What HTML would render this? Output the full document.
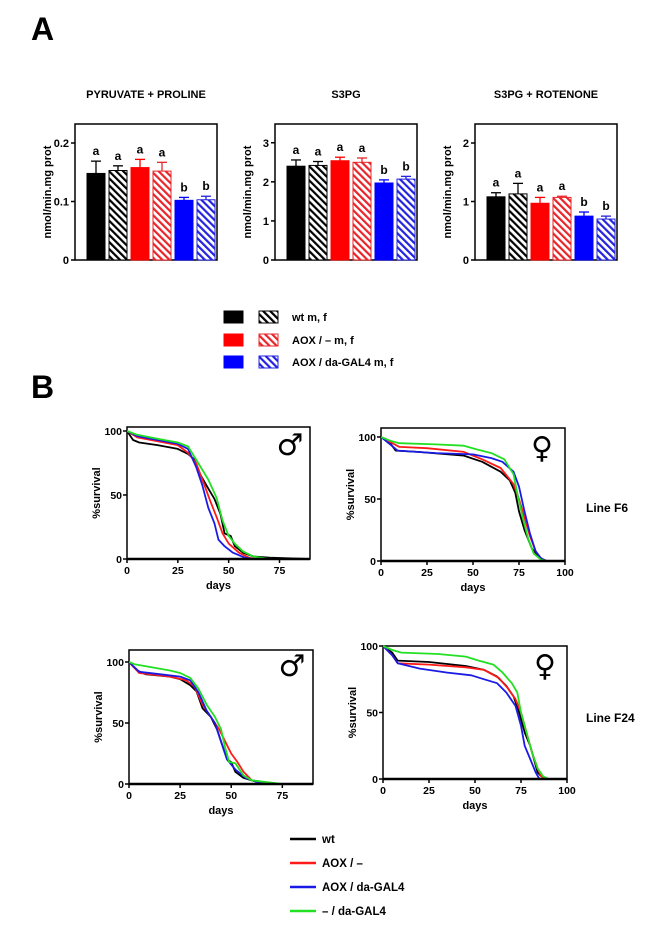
<!DOCTYPE html>
<html><head><meta charset="utf-8"><style>
html,body{margin:0;padding:0;background:#fff;}
svg{display:block;font-family:"Liberation Sans",Arial,sans-serif;}
text{font-weight:bold;fill:#000;}
</style></head><body>
<svg id="fig" width="672" height="925" viewBox="0 0 672 925" xmlns="http://www.w3.org/2000/svg">
<defs>
<pattern id="hatch-black" patternUnits="userSpaceOnUse" width="5" height="5" patternTransform="rotate(-45)"><rect width="5" height="5" fill="#fff"/><rect width="2.2" height="5" fill="#000"/></pattern>
<pattern id="hatch-red" patternUnits="userSpaceOnUse" width="5" height="5" patternTransform="rotate(-45)"><rect width="5" height="5" fill="#fff"/><rect width="2.2" height="5" fill="#e8252a"/></pattern>
<pattern id="hatch-blue" patternUnits="userSpaceOnUse" width="5" height="5" patternTransform="rotate(-45)"><rect width="5" height="5" fill="#fff"/><rect width="2.2" height="5" fill="#2323e0"/></pattern>
</defs>
<text x="31" y="40" font-size="32">A</text>
<text x="31" y="398" font-size="32">B</text>
<g id="bars"></g>
<g id="legendA"></g>
<g id="surv"></g>
<text x="586" y="512" font-size="12">Line F6</text>
<text x="586" y="722" font-size="12">Line F24</text>
<g id="legendB"></g>
</svg>
<script>
// ---- Panel A data ----
const barTitles = ["PYRUVATE + PROLINE", "S3PG", "S3PG + ROTENONE"];
const barGroups = ["wt m", "wt f", "AOX/- m", "AOX/- f", "AOX/da-GAL4 m", "AOX/da-GAL4 f"];
const pyrValues = [0.148, 0.153, 0.158, 0.152, 0.102, 0.103];
const pyrErrors = [0.021, 0.008, 0.014, 0.015, 0.005, 0.006];
const s3pgValues = [2.40, 2.42, 2.54, 2.50, 1.97, 2.07];
const s3pgErrors = [0.16, 0.10, 0.09, 0.11, 0.08, 0.07];
const rotValues = [1.08, 1.13, 0.97, 1.07, 0.75, 0.70];
const rotErrors = [0.07, 0.18, 0.10, 0.02, 0.07, 0.05];
const sigLetters = ["a", "a", "a", "a", "b", "b"];
const pyrTicks = ["0", "0.1", "0.2"];
const s3pgTicks = ["0", "1", "2", "3"];
const rotTicks = ["0", "1", "2"];

// ---- Panel B data (day, %survival) ----
const seriesNames = ["wt", "AOX / \u2013", "AOX / da-GAL4", "\u2013 / da-GAL4"];
const f6MaleWt = [[0,100],[3,93],[6,91],[15,89],[25,86],[30,82],[33,78],[36,66],[40,55],[43,47],[46,35],[48,20],[51,18],[53,10],[57,5],[62,2],[70,1],[90,0]];
const f6MaleAox = [[0,100],[5,95],[15,92],[25,89],[30,83],[34,75],[38,58],[41,45],[44,33],[47,20],[50,12],[55,5],[60,1],[63,0]];
const f6MaleAoxDa = [[0,100],[5,96],[15,93],[25,90],[30,86],[34,72],[37,58],[40,40],[43,28],[45,15],[48,10],[52,5],[58,1],[62,0]];
const f6MaleDa = [[0,100],[5,97],[15,94],[25,91],[30,88],[35,75],[40,62],[44,48],[47,30],[50,18],[53,12],[57,6],[62,2],[70,0]];
const f6FemWt = [[0,100],[5,95],[8,89],[20,88],[45,85],[55,80],[65,72],[70,65],[73,55],[75,40],[78,25],[82,10],[85,5],[88,1],[90,0]];
const f6FemAox = [[0,100],[5,96],[10,92],[25,91],[45,88],[55,82],[65,75],[72,62],[75,50],[78,35],[81,20],[84,8],[87,2],[90,0]];
const f6FemAoxDa = [[0,100],[5,94],[9,89],[30,87],[50,86],[60,83],[66,80],[72,72],[75,60],[78,40],[81,22],[84,8],[87,2],[90,0]];
const f6FemDa = [[0,100],[5,97],[10,95],[30,94],[45,93],[52,90],[60,87],[67,82],[72,70],[74,55],[77,35],[80,18],[83,6],[87,1],[90,0]];
const f24MaleWt = [[0,100],[4,93],[8,90],[20,88],[25,86],[30,81],[33,76],[36,62],[40,55],[43,45],[46,30],[48,20],[50,18],[52,10],[56,5],[62,2],[70,0]];
const f24MaleAox = [[0,100],[5,91],[10,90],[20,88],[28,85],[32,80],[36,65],[40,55],[44,45],[47,35],[50,25],[53,18],[56,10],[60,3],[68,1],[72,0]];
const f24MaleAoxDa = [[0,100],[5,92],[15,90],[25,88],[30,85],[34,75],[38,60],[42,50],[45,35],[48,20],[52,12],[57,5],[62,2],[70,0]];
const f24MaleDa = [[0,100],[3,98],[10,96],[20,93],[25,91],[30,87],[34,78],[38,65],[42,55],[45,45],[47,30],[49,18],[52,17],[56,7],[60,3],[70,1],[75,0]];
const f24FemWt = [[0,100],[5,95],[8,89],[25,88],[45,85],[55,82],[62,77],[67,70],[71,62],[74,50],[77,35],[80,25],[82,15],[84,5],[86,2],[89,0]];
const f24FemAox = [[0,100],[5,93],[8,87],[25,86],[45,84],[55,82],[63,76],[68,68],[72,60],[75,50],[78,35],[81,20],[84,8],[86,2],[89,0]];
const f24FemAoxDa = [[0,100],[5,93],[8,87],[20,83],[35,80],[48,78],[55,75],[62,72],[67,65],[72,55],[75,40],[77,25],[80,15],[83,5],[85,0]];
const f24FemDa = [[0,100],[5,97],[10,95],[30,94],[45,92],[52,89],[60,86],[65,80],[70,72],[73,65],[75,50],[78,35],[81,20],[84,8],[87,2],[90,0]];
const survTicksX90 = [0, 25, 50, 75];
const survTicksX100 = [0, 25, 50, 75, 100];
const survTicksY = [0, 50, 100];

const NS = "http://www.w3.org/2000/svg";
function mk(tag, attrs, parent) {
  const e = document.createElementNS(NS, tag);
  for (const k in attrs) e.setAttribute(k, attrs[k]);
  parent.appendChild(e);
  return e;
}
const solidCols = ["#000", "#000", "#ff0000", "#e8252a", "#0000ff", "#2323e0"];
const fills = ["#000", "url(#hatch-black)", "#ff0000", "url(#hatch-red)", "#0000ff", "url(#hatch-blue)"];

// ---- Bar charts ----
const barCharts = [
  {L: 75, max: 0.2325, vals: pyrValues, errs: pyrErrors, ticks: pyrTicks, slug: "pyruvate-proline"},
  {L: 275, max: 3.48, vals: s3pgValues, errs: s3pgErrors, ticks: s3pgTicks, slug: "s3pg"},
  {L: 475, max: 2.325, vals: rotValues, errs: rotErrors, ticks: rotTicks, slug: "s3pg-rotenone"}
];
const barsG = document.getElementById("bars");
barCharts.forEach((c, ci) => {
  const T = 124, B = 260, W = 142;
  const y = v => B - (v / c.max) * (B - T);
  const g = mk("g", {}, barsG);
  
  
  const title = mk("text", {x: c.L + W / 2, y: 98, "font-size": 11, "text-anchor": "middle"}, g);
  title.textContent = barTitles[ci];
  
  
  const box = mk("rect", {x: c.L, y: T, width: W, height: B - T, fill: "none", stroke: "#000", "stroke-width": 1.5}, g);
  
  
  c.ticks.forEach(t => {
    const ty = y(parseFloat(t));
    mk("line", {x1: c.L - 4, x2: c.L, y1: ty, y2: ty, stroke: "#000", "stroke-width": 1.5}, g);
    const tl = mk("text", {x: c.L - 6, y: ty + 4, "font-size": 11, "text-anchor": "end"}, g);
    tl.textContent = t;
    
    
  });
  const yl = mk("text", {x: 0, y: 0, "font-size": 11, "text-anchor": "middle", transform: `translate(${c.L - 24},${(T + B) / 2}) rotate(-90)`}, g);
  yl.textContent = "nmol/min.mg prot";
  
  
  c.vals.forEach((v, i) => {
    const cx = c.L + 21 + i * 22;
    const top = y(v), etop = y(v + c.errs[i]);
    const el = mk("line", {x1: cx, x2: cx, y1: top, y2: etop, stroke: solidCols[i], "stroke-width": 1.3}, g);
    
    
    mk("line", {x1: cx - 5, x2: cx + 5, y1: etop, y2: etop, stroke: solidCols[i], "stroke-width": 1.3}, g);
    const r = mk("rect", {x: cx - 9, y: top, width: 18, height: B - top, fill: fills[i], stroke: solidCols[i], "stroke-width": 1}, g);
    
    
    const lt = mk("text", {x: cx, y: etop - 6, "font-size": 12, "text-anchor": "middle"}, g);
    lt.textContent = sigLetters[i];
    
    
  });
});

// Legend A
const legA = document.getElementById("legendA");
const legALabels = ["wt  m, f", "AOX / \u2013  m, f", "AOX / da-GAL4  m, f"];
const legAY = [317, 340, 362];
legALabels.forEach((lab, i) => {
  const yy = legAY[i];
  const s = mk("rect", {x: 224, y: yy - 6, width: 19, height: 12, fill: fills[i * 2], stroke: solidCols[i * 2], "stroke-width": 1}, legA);
  
  
  const h = mk("rect", {x: 259, y: yy - 6, width: 19, height: 12, fill: fills[i * 2 + 1], stroke: solidCols[i * 2 + 1], "stroke-width": 1}, legA);
  
  
  const t = mk("text", {x: 292, y: yy + 4, "font-size": 11}, legA);
  t.textContent = lab;
  
  
});

// ---- Survival plots ----
const lineCols = ["#000000", "#ff1a1a", "#1a1ae6", "#22e022"];
const survPlots = [
  {L: 127, R: 310, T: 427, B: 559, y100: 431, xmax: 90, ticks: survTicksX90, sym: "\u2642", sx: 290, sy: 455, series: [f6MaleWt, f6MaleAox, f6MaleAoxDa, f6MaleDa], slug: "f6-male"},
  {L: 381, R: 565, T: 428, B: 561, y100: 437, xmax: 100, ticks: survTicksX100, sym: "\u2640", sx: 542, sy: 458, series: [f6FemWt, f6FemAox, f6FemAoxDa, f6FemDa], slug: "f6-female"},
  {L: 129, R: 313, T: 650, B: 784, y100: 662, xmax: 90, ticks: survTicksX90, sym: "\u2642", sx: 292, sy: 676, series: [f24MaleWt, f24MaleAox, f24MaleAoxDa, f24MaleDa], slug: "f24-male"},
  {L: 383, R: 567, T: 646, B: 779, y100: 646, xmax: 100, ticks: survTicksX100, sym: "\u2640", sx: 545, sy: 676, series: [f24FemWt, f24FemAox, f24FemAoxDa, f24FemDa], slug: "f24-female"}
];
const survG = document.getElementById("surv");
survPlots.forEach(p => {
  const xs = d => p.L + d / p.xmax * (p.R - p.L);
  const ys = v => p.B - v / 100 * (p.B - p.y100);
  const g = mk("g", {}, survG);
  
  
  const fr = mk("rect", {x: p.L, y: p.T, width: p.R - p.L, height: p.B - p.T, fill: "none", stroke: "#000", "stroke-width": 1.5}, g);
  
  
  p.series.forEach((s, si) => {
    const pts = s.map(d => xs(d[0]).toFixed(1) + "," + ys(d[1]).toFixed(1)).join(" ");
    const pl = mk("polyline", {points: pts, fill: "none", stroke: lineCols[si], "stroke-width": 1.8, "stroke-linejoin": "round"}, g);
    
    
  });
  mk("line", {x1: p.L, x2: p.R, y1: p.B, y2: p.B, stroke: "#000", "stroke-width": 2.5}, g);
  p.ticks.forEach(t => {
    const tx = xs(t);
    mk("line", {x1: tx, x2: tx, y1: p.B, y2: p.B + 4, stroke: "#000", "stroke-width": 1.5}, g);
    const tl = mk("text", {x: tx, y: p.B + 15, "font-size": 10.5, "text-anchor": "middle"}, g);
    tl.textContent = t;
    
    
  });
  survTicksY.forEach(t => {
    const ty = ys(t);
    mk("line", {x1: p.L - 4, x2: p.L, y1: ty, y2: ty, stroke: "#000", "stroke-width": 1.5}, g);
    const tl = mk("text", {x: p.L - 5, y: ty + 4, "font-size": 10.5, "text-anchor": "end"}, g);
    tl.textContent = t;
    
    
  });
  const xt = mk("text", {x: (p.L + p.R) / 2, y: p.B + 30, "font-size": 11, "text-anchor": "middle"}, g);
  xt.textContent = "days";
  
  
  const yt = mk("text", {x: 0, y: 0, "font-size": 11, "text-anchor": "middle", transform: `translate(${p.L - 27},${(p.T + p.B) / 2}) rotate(-90)`}, g);
  yt.textContent = "%survival";
  
  
  const sy = mk("text", {x: p.sx, y: p.sy, "font-size": 30, "text-anchor": "middle", "font-family": "DejaVu Sans, sans-serif", "font-weight": "normal"}, g);
  sy.textContent = p.sym;
  
  
});

// Legend B
const legB = document.getElementById("legendB");
const legBY = [839, 863, 887, 911];
seriesNames.forEach((n, i) => {
  const ln = mk("line", {x1: 290, x2: 316, y1: legBY[i], y2: legBY[i], stroke: lineCols[i], "stroke-width": 2.5}, legB);
  
  
  const t = mk("text", {x: 322, y: legBY[i] + 4, "font-size": 11.5}, legB);
  t.textContent = n;
  
  
});
</script>
</body></html>
